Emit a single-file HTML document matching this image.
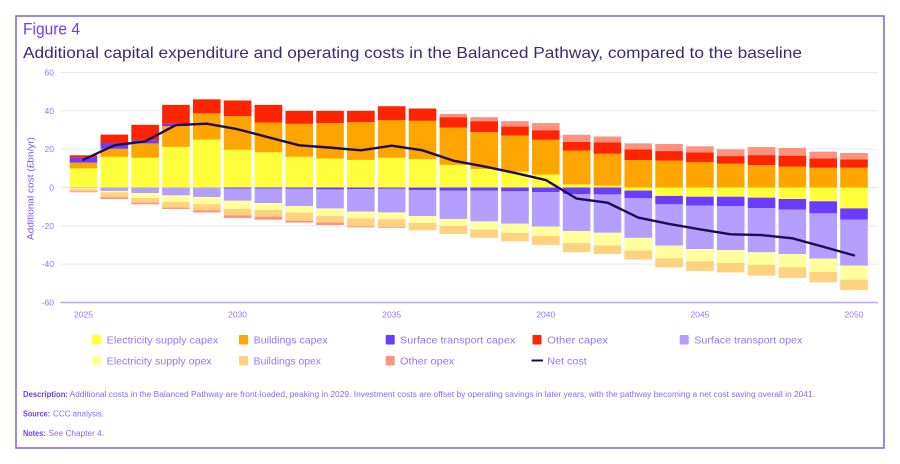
<!DOCTYPE html>
<html lang="en">
<head>
<meta charset="utf-8">
<title>Figure 4</title>
<style>
html,body{margin:0;padding:0;background:#fff;width:900px;height:464px;overflow:hidden}
svg{display:block;font-family:"Liberation Sans",sans-serif;filter:blur(0.35px)}
</style>
</head>
<body>
<svg id="chart" width="900" height="464" viewBox="0 0 900 464" xmlns="http://www.w3.org/2000/svg">
  <rect x="16" y="16" width="868" height="432" fill="#fff" stroke="#7d62d9" stroke-width="1.5"/>
  <text x="23" y="34.5" font-size="17" fill="#6b3ff5" textLength="57" lengthAdjust="spacingAndGlyphs">Figure 4</text>
  <text x="23" y="58" font-size="16" fill="#3c2a6e" textLength="779" lengthAdjust="spacingAndGlyphs">Additional capital expenditure and operating costs in the Balanced Pathway, compared to the baseline</text>
  <g id="grid"></g>
  <g id="bars"></g>
  <g id="axes"></g>
  <polyline id="net" fill="none" stroke="#1f0b52" stroke-width="2.4" stroke-linejoin="round" stroke-linecap="round"/>
  <text transform="translate(33.5,188.5) rotate(-90)" text-anchor="middle" font-size="9.5" fill="#7a55f5" textLength="103" lengthAdjust="spacingAndGlyphs">Additional cost (£bn/yr)</text>

  <g font-size="10" fill="#9577f5">
    <g><rect x="92" y="335" width="9" height="9.5" rx="1" fill="#ffff3c"/><text x="106.7" y="343.5" textLength="111.6" lengthAdjust="spacingAndGlyphs">Electricity supply capex</text></g>
    <g><rect x="239" y="335" width="9" height="9.5" rx="1" fill="#ffa500"/><text x="253.7" y="343.5" textLength="74" lengthAdjust="spacingAndGlyphs">Buildings capex</text></g>
    <g><rect x="385.7" y="335" width="9" height="9.5" rx="1" fill="#6a3cff"/><text x="400" y="343.5" textLength="115.3" lengthAdjust="spacingAndGlyphs">Surface transport capex</text></g>
    <g><rect x="532.5" y="335" width="9" height="9.5" rx="1" fill="#ff2400"/><text x="547.3" y="343.5" textLength="60.7" lengthAdjust="spacingAndGlyphs">Other capex</text></g>
    <g><rect x="679.7" y="335" width="9" height="9.5" rx="1" fill="#b49eff"/><text x="694.3" y="343.5" textLength="108" lengthAdjust="spacingAndGlyphs">Surface transport opex</text></g>
    <g><rect x="92" y="356" width="9" height="9.5" rx="1" fill="#ffff9e"/><text x="106.7" y="364.5" textLength="105" lengthAdjust="spacingAndGlyphs">Electricity supply opex</text></g>
    <g><rect x="239" y="356" width="9" height="9.5" rx="1" fill="#ffd27f"/><text x="253.7" y="364.5" textLength="67.3" lengthAdjust="spacingAndGlyphs">Buildings opex</text></g>
    <g><rect x="385.7" y="356" width="9" height="9.5" rx="1" fill="#ff917f"/><text x="400" y="364.5" textLength="54.3" lengthAdjust="spacingAndGlyphs">Other opex</text></g>
    <g><line x1="531.5" x2="543" y1="360.5" y2="360.5" stroke="#1f0b52" stroke-width="2"/><text x="547.3" y="364.5" textLength="39.4" lengthAdjust="spacingAndGlyphs">Net cost</text></g>
  </g>

  <g font-size="8" fill="#8a68f5">
    <text x="23" y="397" font-weight="bold" fill="#6b3fe6" textLength="45" lengthAdjust="spacingAndGlyphs">Description:</text>
    <text x="69.5" y="397" textLength="745.5" lengthAdjust="spacingAndGlyphs">Additional costs in the Balanced Pathway are front-loaded, peaking in 2029. Investment costs are offset by operating savings in later years, with the pathway becoming a net cost saving overall in 2041.</text>
    <text x="23" y="416.5" font-weight="bold" fill="#6b3fe6" textLength="27" lengthAdjust="spacingAndGlyphs">Source:</text>
    <text x="53" y="416.5" textLength="51" lengthAdjust="spacingAndGlyphs">CCC analysis.</text>
    <text x="23" y="436" font-weight="bold" fill="#6b3fe6" textLength="22.5" lengthAdjust="spacingAndGlyphs">Notes:</text>
    <text x="48.5" y="436" textLength="55.5" lengthAdjust="spacingAndGlyphs">See Chapter 4.</text>
  </g>
</svg>
<script>
const years = [2025,2026,2027,2028,2029,2030,2031,2032,2033,2034,2035,2036,2037,2038,2039,2040,2041,2042,2043,2044,2045,2046,2047,2048,2049,2050];
const yTickLabels = [60,40,20,0,-20,-40,-60];
const xTickLabels = [2025,2030,2035,2040,2045,2050];

const electricityCapex = [10,16,15.5,21.2,25,19.7,18.4,16,15.1,14.4,15.5,14.8,11.8,9.7,8.3,6.8,1.6,1,-1.6,-4.4,-4.8,-4.8,-5.3,-6,-7.2,-10.9];
const buildingsCapex = [3,4.2,7.5,10.8,13.6,17.5,15.5,17.2,18.5,19.7,19.6,20,19.5,19.2,18.8,18.1,17.7,16.6,14.3,14,13.3,12.4,11.7,10.9,10.3,10.3];
const transportCapex = [2.6,3,1.7,1.2,0.1,-0.5,-0.6,-0.7,-1,-0.8,-0.7,-1.4,-1.7,-1.7,-2,-2.4,-3.5,-3.6,-3.9,-4.4,-4.7,-5,-5.4,-5.6,-6.3,-5.9];
const otherCapex = [1.2,4.4,8,9.9,7.3,8.2,9.2,6.8,6.4,5.9,7.3,6.4,5.4,5.7,4.7,5,4.5,5.9,5.6,5,5,4,5.2,5.7,4.9,4.4];
const transportOpex = [-0.3,-1.8,-2.9,-4.1,-5,-6.4,-7.5,-9,-9.9,-11.8,-12.3,-13.5,-14.7,-16,-16.9,-18,-19.2,-20,-20.8,-21.5,-22.6,-22.8,-23.1,-23.1,-23.6,-24];
const electricityOpex = [-0.4,-0.7,-2.6,-3.5,-3.7,-4.3,-3.6,-3.4,-4,-3.5,-3.6,-3.6,-3.6,-4.3,-4.8,-4.9,-6.3,-6.6,-6.6,-6.6,-6.4,-6.8,-6.5,-6.9,-7,-7.3];
const buildingsOpex = [-1.3,-2.6,-2.4,-2.9,-3.3,-3.3,-3.5,-4.2,-3.4,-4.2,-4,-3.8,-4.3,-4.3,-4.4,-4.7,-4.7,-4.5,-4.7,-4.7,-5.1,-4.9,-5.7,-5.6,-5.4,-5.4];
const otherOpex = [-0.5,-0.9,-0.9,-0.7,-1,-1.4,-1.6,-1,-1.3,-0.5,-0.4,0,1.7,2.1,2.8,3.7,3.7,3.1,3.1,3.7,3.2,3.5,4.2,4,3.5,3.3];
const netCost = [14.5,22,24.1,32.6,33.3,30.4,26.2,22,20.8,19.4,21.8,19.4,14,11,7.6,3.9,-5.8,-7.9,-15.7,-19,-21.8,-24.4,-24.8,-26.5,-30.9,-35.4];

const seriesNames = ['electricity-capex','buildings-capex','transport-capex','other-capex','transport-opex','electricity-opex','buildings-opex','other-opex'];
const seriesColors = ['#ffff3c','#ffa500','#6a3cff','#ff2400','#b49eff','#ffff9e','#ffd27f','#ff917f'];
const seriesValues = [electricityCapex,buildingsCapex,transportCapex,otherCapex,transportOpex,electricityOpex,buildingsOpex,otherOpex];

const NS = 'http://www.w3.org/2000/svg';
const xScale = y => 83.5 + (y - 2025) * (854 - 83.5) / 25;
const yScale = v => 187.5 - v * (302.5 - 72.5) / 120;
const barWidth = 27.6;

const grid = document.getElementById('grid');
const axes = document.getElementById('axes');
const bars = document.getElementById('bars');

yTickLabels.forEach(t => {
  const line = document.createElementNS(NS, 'line');
  
  
  line.setAttribute('x1', 60.5);
  line.setAttribute('x2', 878);
  line.setAttribute('y1', yScale(t));
  line.setAttribute('y2', yScale(t));
  line.setAttribute('stroke', t === -60 ? '#b9a6f2' : '#e7e6ee');
  line.setAttribute('stroke-width', t === -60 ? 1.6 : 1);
  (t === -60 ? axes : grid).appendChild(line);
  const label = document.createElementNS(NS, 'text');
  
  
  label.setAttribute('x', 54);
  label.setAttribute('y', yScale(t) + 3);
  label.setAttribute('text-anchor', 'end');
  label.setAttribute('font-size', 8.5);
  label.setAttribute('fill', '#9577f5');
  label.textContent = t;
  axes.appendChild(label);
});

xTickLabels.forEach(t => {
  const label = document.createElementNS(NS, 'text');
  
  
  label.setAttribute('x', xScale(t));
  label.setAttribute('y', 317.5);
  label.setAttribute('text-anchor', 'middle');
  label.setAttribute('font-size', 8.5);
  label.setAttribute('fill', '#9577f5');
  label.textContent = t;
  axes.appendChild(label);
});

years.forEach((year, i) => {
  let up = 0;
  let down = 0;
  seriesValues.forEach((values, s) => {
    const v = values[i];
    if (!v) return;
    const from = v > 0 ? up : down;
    const to = from + v;
    if (v > 0) up = to; else down = to;
    const rect = document.createElementNS(NS, 'rect');
    
    
    rect.setAttribute('x', xScale(year) - barWidth / 2);
    rect.setAttribute('width', barWidth);
    rect.setAttribute('y', Math.min(yScale(from), yScale(to)));
    rect.setAttribute('height', Math.abs(yScale(to) - yScale(from)));
    rect.setAttribute('fill', seriesColors[s]);
    bars.appendChild(rect);
  });
});

document.getElementById('net').setAttribute('points', years.map((y, i) => xScale(y) + ',' + yScale(netCost[i])).join(' '));
</script>
</body>
</html>
